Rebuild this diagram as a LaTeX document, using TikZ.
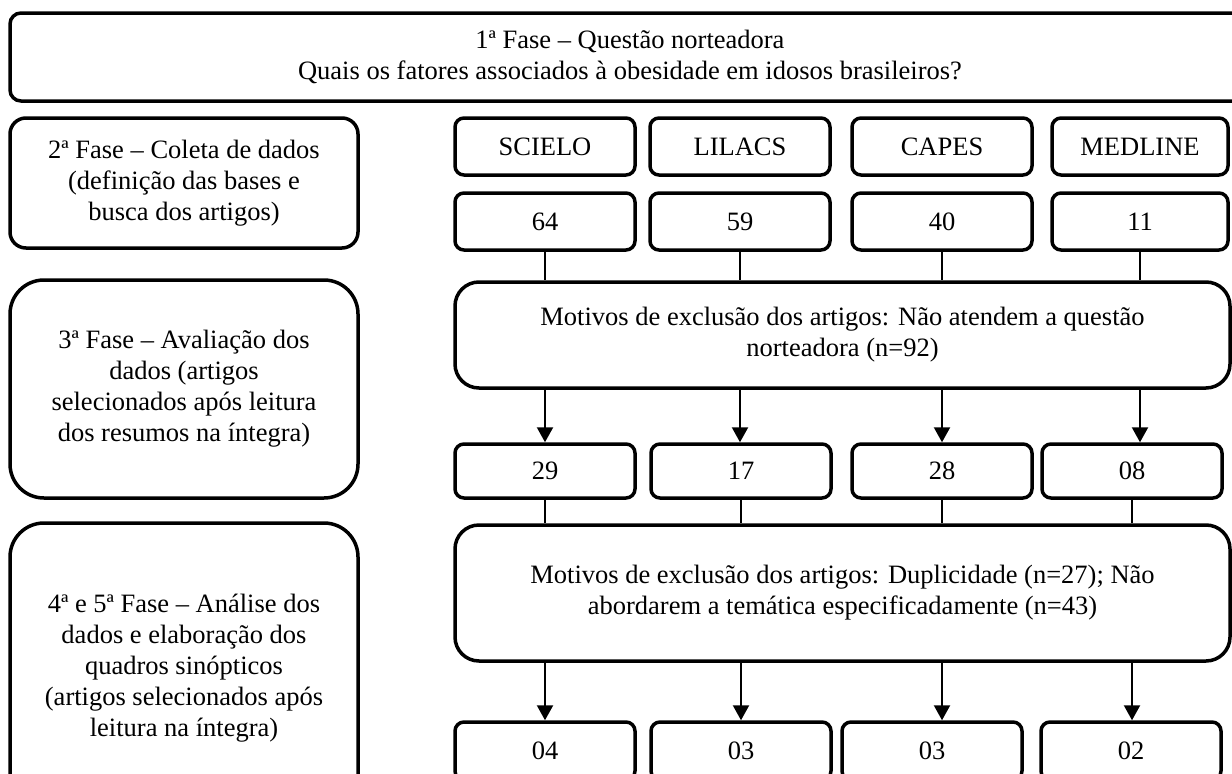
\documentclass[tikz,border=0pt]{standalone}
\usepackage{fontspec}
\setmainfont{Liberation Serif}
\usetikzlibrary{arrows.meta}

\begin{document}
\begin{tikzpicture}[x=1pt,y=-1pt,
    box/.style={draw, line width=3.5pt, align=center, inner sep=0pt,
        font=\fontsize{26.5}{31}\selectfont},
    srcbox/.style={box, rounded corners=9pt, minimum width=180pt, minimum height=57pt},
    numbox/.style={box, rounded corners=9pt, minimum width=180pt, minimum height=54pt},
    conn/.style={line width=2.2pt},
    arr/.style={line width=2.2pt, -{Triangle[width=16pt,length=15pt]}}]
    \useasboundingbox (0,0) rectangle (1232,774);
    \clip (0,0) rectangle (1232,774);
    % phases
    \node[box, rounded corners=11pt, minimum width=1240pt, minimum height=88pt] (fase1) at (630,57)
        {1ª Fase – Questão norteadora\\Quais os fatores associados à obesidade em idosos brasileiros?};
    \node[box, rounded corners=16pt, minimum width=348pt, minimum height=130pt] (fase2) at (184,183)
        {2ª Fase – Coleta de dados\\(definição das bases e\\busca dos artigos)};
    \node[box, rounded corners=34pt, minimum width=348pt, minimum height=218pt] (fase3) at (184,389)
        {3ª Fase – Avaliação dos\\dados (artigos\\selecionados após leitura\\dos resumos na íntegra)};
    \node[box, rounded corners=34pt, minimum width=348pt, minimum height=290pt] (fase4) at (184,668)
        {4ª e 5ª Fase – Análise dos\\dados e elaboração dos\\quadros sinópticos\\(artigos selecionados após\\leitura na íntegra)};
    % bases
    \node[srcbox] (scielo) at (545,146.5) {SCIELO};
    \node[srcbox] (lilacs) at (740,146.5) {LILACS};
    \node[srcbox] (capes) at (942,146.5) {CAPES};
    \node[srcbox, minimum width=176pt] (medline) at (1140,146.5) {MEDLINE};
    % busca
    \node[numbox, minimum height=57pt] (n64) at (545,221.5) {64};
    \node[numbox, minimum height=57pt] (n59) at (740,221.5) {59};
    \node[numbox, minimum height=57pt] (n40) at (942,221.5) {40};
    \node[numbox, minimum height=57pt, minimum width=176pt] (n11) at (1140,221.5) {11};
    \node[box, rounded corners=24pt, minimum width=775pt, minimum height=106pt] (excl1) at (842.5,335)
        {Motivos de exclusão dos artigos: Não atendem a questão\\norteadora (n=92)};
    % resumos
    \node[numbox] (n29) at (545,471) {29};
    \node[numbox] (n17) at (741,471) {17};
    \node[numbox] (n28) at (942,471) {28};
    \node[numbox] (n08) at (1132,471) {08};
    \node[box, rounded corners=24pt, minimum width=775pt, minimum height=136pt] (excl2) at (842.5,593)
        {Motivos de exclusão dos artigos: Duplicidade (n=27); Não\\abordarem a temática especificadamente (n=43)};
    % final
    \node[numbox, minimum height=58pt] (n04) at (545,751) {04};
    \node[numbox, minimum height=58pt] (n03a) at (741,751) {03};
    \node[numbox, minimum height=58pt] (n03b) at (932,751) {03};
    \node[numbox, minimum height=58pt] (n02) at (1131,751) {02};
    % ligacoes
    \draw[conn] (n64.south) -- (n64.south |- excl1.north);
    \draw[conn] (n59.south) -- (n59.south |- excl1.north);
    \draw[conn] (n40.south) -- (n40.south |- excl1.north);
    \draw[conn] (n11.south) -- (n11.south |- excl1.north);
    \draw[arr] (excl1.south -| n64) -- (n64 |- n29.north);
    \draw[arr] (excl1.south -| n59) -- (n59 |- n17.north);
    \draw[arr] (excl1.south -| n40) -- (n40 |- n28.north);
    \draw[arr] (excl1.south -| n11) -- (n11 |- n08.north);
    \draw[conn] (n29.south) -- (n29.south |- excl2.north);
    \draw[conn] (n17.south) -- (n17.south |- excl2.north);
    \draw[conn] (n28.south) -- (n28.south |- excl2.north);
    \draw[conn] (n08.south) -- (n08.south |- excl2.north);
    \draw[arr] (excl2.south -| n29) -- (n29 |- n04.north);
    \draw[arr] (excl2.south -| n17) -- (n17 |- n03a.north);
    \draw[arr] (excl2.south -| n28) -- (n28 |- n03b.north);
    \draw[arr] (excl2.south -| n08) -- (n08 |- n02.north);
\end{tikzpicture}
\end{document}
